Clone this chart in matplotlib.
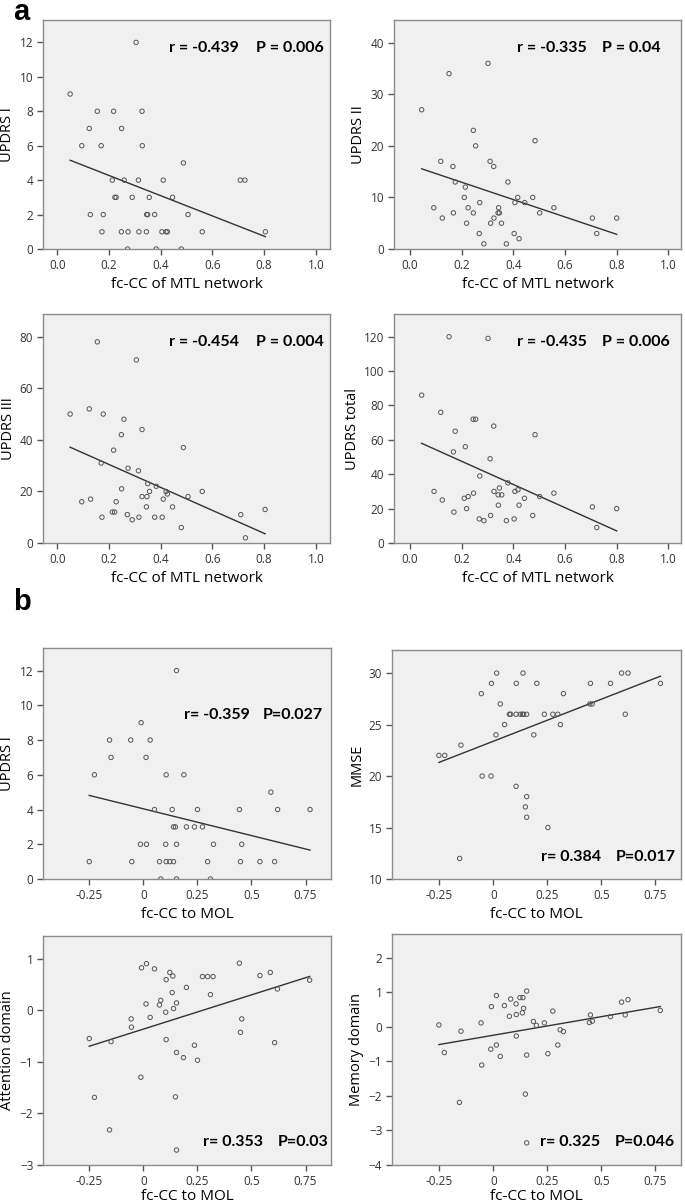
import numpy as np
import matplotlib
matplotlib.use("Agg")
import matplotlib.pyplot as plt

plt.rcParams['font.family'] = ['Open Sans', 'DejaVu Sans']

# ---- data ----
# panel a: fc-CC of MTL network
updrs1_x = [0.305, 0.050, 0.155, 0.218, 0.328, 0.124, 0.249, 0.095, 0.170, 0.329,
            0.488, 0.213, 0.259, 0.314, 0.410, 0.708, 0.726, 0.223, 0.228, 0.290,
            0.356, 0.446, 0.128, 0.178, 0.346, 0.350, 0.377, 0.506, 0.173, 0.248,
            0.274, 0.316, 0.345, 0.405, 0.421, 0.426, 0.561, 0.805, 0.272, 0.383, 0.480]
updrs1_y = [12, 9, 8, 8, 8, 7, 7, 6, 6, 6,
            5, 4, 4, 4, 4, 4, 4, 3, 3, 3,
            3, 3, 2, 2, 2, 2, 2, 2, 1, 1,
            1, 1, 1, 1, 1, 1, 1, 1, 0, 0, 0]

updrs2_x = [0.045, 0.151, 0.302, 0.245, 0.254, 0.484, 0.119, 0.310, 0.166, 0.324,
            0.175, 0.379, 0.214, 0.210, 0.417, 0.475, 0.270, 0.406, 0.444, 0.092,
            0.225, 0.343, 0.557, 0.168, 0.245, 0.341, 0.346, 0.502, 0.125, 0.325,
            0.706, 0.800, 0.219, 0.312, 0.354, 0.268, 0.403, 0.723, 0.422, 0.286, 0.373]
updrs2_y = [27, 34, 36, 23, 20, 21, 17, 17, 16, 16,
            13, 13, 12, 10, 10, 10, 9, 9, 9, 8,
            8, 8, 8, 7, 7, 7, 7, 7, 6, 6,
            6, 6, 5, 5, 5, 3, 3, 3, 2, 1, 1]

updrs3_x = [0.155, 0.306, 0.050, 0.124, 0.178, 0.258, 0.328, 0.248, 0.488, 0.218,
            0.170, 0.274, 0.314, 0.350, 0.383, 0.249, 0.357, 0.421, 0.561, 0.426,
            0.328, 0.347, 0.506, 0.129, 0.410, 0.095, 0.228, 0.345, 0.446, 0.804,
            0.213, 0.222, 0.271, 0.710, 0.173, 0.316, 0.377, 0.406, 0.290, 0.480, 0.728]
updrs3_y = [78, 71, 50, 52, 50, 48, 44, 42, 37, 36,
            31, 29, 28, 23, 22, 21, 20, 20, 20, 19,
            18, 18, 18, 17, 17, 16, 16, 14, 14, 13,
            12, 12, 11, 11, 10, 10, 10, 10, 9, 6, 2]

updrst_x = [0.151, 0.302, 0.045, 0.119, 0.244, 0.254, 0.324, 0.175, 0.484, 0.214,
            0.168, 0.310, 0.270, 0.379, 0.346, 0.418, 0.093, 0.325, 0.406, 0.246,
            0.557, 0.341, 0.355, 0.225, 0.502, 0.210, 0.443, 0.125, 0.342, 0.422,
            0.706, 0.219, 0.800, 0.170, 0.312, 0.475, 0.268, 0.403, 0.286, 0.373, 0.723]
updrst_y = [120, 119, 86, 76, 72, 72, 68, 65, 63, 56,
            53, 49, 39, 35, 32, 31, 30, 30, 30, 29,
            29, 28, 28, 27, 27, 26, 26, 25, 22, 22,
            21, 20, 20, 18, 16, 16, 14, 14, 13, 13, 9]

# panel b: fc-CC to MOL
mol_u1_x = [0.153, -0.011, -0.157, -0.059, 0.031, -0.150, 0.012, -0.227, 0.105, 0.187,
            0.590, 0.051, 0.133, 0.250, 0.444, 0.621, 0.771, 0.139, 0.148, 0.199,
            0.236, 0.273, -0.014, 0.014, 0.103, 0.153, 0.324, 0.455, -0.251, -0.054,
            0.074, 0.105, 0.122, 0.139, 0.297, 0.449, 0.539, 0.607, 0.080, 0.153, 0.310]
mol_u1_y = [12, 9, 8, 8, 8, 7, 7, 6, 6, 6,
            5, 4, 4, 4, 4, 4, 4, 3, 3, 3,
            3, 3, 2, 2, 2, 2, 2, 2, 1, 1,
            1, 1, 1, 1, 1, 1, 1, 1, 0, 0, 0]

mmse_x = [0.015, 0.137, 0.593, 0.623, -0.009, 0.106, 0.201, 0.449, 0.542, 0.773,
          -0.056, 0.324, 0.032, 0.446, 0.457, 0.074, 0.080, 0.105, 0.125, 0.134,
          0.140, 0.154, 0.236, 0.275, 0.298, 0.610, 0.052, 0.310, 0.012, 0.187,
          -0.150, -0.252, -0.225, -0.052, -0.011, 0.105, 0.154, 0.148, 0.154, 0.252, -0.156]
mmse_y = [30, 30, 30, 30, 29, 29, 29, 29, 29, 29,
          28, 28, 27, 27, 27, 26, 26, 26, 26, 26,
          26, 26, 26, 26, 26, 26, 25, 25, 24, 24,
          23, 22, 22, 20, 20, 19, 18, 17, 16, 15, 12]

attn_x = [0.014, 0.444, -0.009, 0.051, 0.122, 0.587, 0.136, 0.539, 0.105, 0.273,
          0.297, 0.322, 0.769, 0.199, 0.620, 0.133, 0.310, 0.080, 0.012, 0.074,
          0.153, 0.139, 0.103, 0.031, -0.057, 0.455, -0.056, 0.449, -0.251, -0.150,
          0.105, 0.607, 0.236, 0.153, 0.185, 0.250, -0.012, -0.227, 0.148, -0.157, 0.153]
attn_y = [0.90, 0.91, 0.82, 0.80, 0.73, 0.73, 0.66, 0.67, 0.59, 0.65,
          0.65, 0.65, 0.58, 0.44, 0.41, 0.34, 0.30, 0.19, 0.12, 0.10,
          0.14, 0.03, -0.04, -0.14, -0.17, -0.17, -0.33, -0.43, -0.55, -0.61,
          -0.57, -0.63, -0.68, -0.82, -0.92, -0.97, -1.30, -1.69, -1.68, -2.32, -2.71]

mem_x = [0.154, 0.014, 0.080, 0.123, 0.137, 0.623, 0.593, 0.105, 0.051, -0.009,
         0.140, 0.275, 0.772, 0.134, 0.106, 0.449, 0.610, 0.074, 0.542, 0.458,
         0.185, 0.444, 0.236, -0.057, 0.199, -0.252, 0.309, 0.324, -0.150, 0.106,
         0.014, 0.298, -0.012, -0.227, 0.252, 0.154, 0.032, -0.054, 0.148, -0.157, 0.154]
mem_y = [1.03, 0.90, 0.80, 0.84, 0.84, 0.78, 0.71, 0.66, 0.61, 0.58,
         0.53, 0.45, 0.47, 0.40, 0.35, 0.34, 0.34, 0.30, 0.29, 0.16,
         0.15, 0.12, 0.11, 0.11, 0.04, 0.05, -0.09, -0.14, -0.13, -0.27,
         -0.53, -0.53, -0.65, -0.75, -0.78, -0.82, -0.86, -1.11, -1.95, -2.19, -3.36]

stats = [("r = -0.439", "P = 0.006"), ("r = -0.335", "P = 0.04"),
         ("r = -0.454", "P = 0.004"), ("r = -0.435", "P = 0.006"),
         ("r= -0.359", "P=0.027"), ("r= 0.384", "P=0.017"),
         ("r= 0.353", "P=0.03"), ("r= 0.325", "P=0.046")]

ylabels = ["UPDRS I", "UPDRS II", "UPDRS III", "UPDRS total",
           "UPDRS I", "MMSE", "Attention domain", "Memory domain"]

W, H = 685, 1204
fig = plt.figure(figsize=(W / 100, H / 100), dpi=100)


def make_ax(left, top, right, bottom):
    # box given in pixels from the top-left corner
    return fig.add_axes([left / W, (H - bottom) / H, (right - left) / W, (bottom - top) / H])


def scatter_panel(ax, x, y, xlim, ylim, yticks, xticks, xticklabels, xlabel, ylabel,
                  stat, rx, px, ty, xpad=4):
    ax.set_facecolor('#f0f0f0')
    for s in ax.spines.values():
        s.set_color('#8c8c8c')
        s.set_linewidth(1.0)
    ax.scatter(x, y, s=10, facecolors='none', edgecolors='#555555', linewidths=0.7, zorder=3)
    coef = np.polyfit(x, y, 1)
    xs = np.array([min(x), max(x)])
    ax.plot(xs, np.polyval(coef, xs), color='#333333', lw=1.0, zorder=2)
    ax.set_xlim(*xlim)
    ax.set_ylim(*ylim)
    ax.set_xticks(xticks)
    ax.set_xticklabels(xticklabels)
    ax.set_yticks(yticks)
    ax.tick_params(direction='out', length=4, width=1, color='#555555',
                   labelsize=8.5, labelcolor='#333333', top=False, right=False, pad=3)
    ax.set_xlabel(xlabel, fontsize=11, labelpad=xpad)
    ax.set_ylabel(ylabel, fontsize=10.5, labelpad=3)
    ax.text(rx, ty, stat[0], transform=ax.transAxes, fontsize=11.5, fontweight='bold',
            family=['Lato', 'DejaVu Sans'], va='center', ha='left')
    ax.text(px, ty, stat[1], transform=ax.transAxes, fontsize=11.5, fontweight='bold',
            family=['Lato', 'DejaVu Sans'], va='center', ha='left')


mtl_ticks = [0.0, 0.2, 0.4, 0.6, 0.8, 1.0]
mtl_labels = ["0.0", "0.2", "0.4", "0.6", "0.8", "1.0"]
mol_ticks = [-0.25, 0, 0.25, 0.5, 0.75]
mol_labels = ["-0.25", "0", "0.25", "0.5", "0.75"]

ax1 = make_ax(43, 20, 330, 249)
scatter_panel(ax1, updrs1_x, updrs1_y, (-0.055, 1.055), (0, 13.3), range(0, 13, 2),
              mtl_ticks, mtl_labels, "fc-CC of MTL network", ylabels[0], stats[0], 0.44, 0.742, 0.878)
ax2 = make_ax(394, 20, 681, 249)
scatter_panel(ax2, updrs2_x, updrs2_y, (-0.062, 1.049), (0, 44.4), range(0, 41, 10),
              mtl_ticks, mtl_labels, "fc-CC of MTL network", ylabels[1], stats[1], 0.428, 0.725, 0.878)
ax3 = make_ax(43, 314, 330, 543)
scatter_panel(ax3, updrs3_x, updrs3_y, (-0.055, 1.055), (0, 88.8), range(0, 81, 20),
              mtl_ticks, mtl_labels, "fc-CC of MTL network", ylabels[2], stats[2], 0.44, 0.742, 0.877)
ax4 = make_ax(394, 314, 681, 543)
scatter_panel(ax4, updrst_x, updrst_y, (-0.062, 1.049), (0, 133.2), range(0, 121, 20),
              mtl_ticks, mtl_labels, "fc-CC of MTL network", ylabels[3], stats[3], 0.428, 0.725, 0.877)

ax5 = make_ax(43, 648, 331, 879)
scatter_panel(ax5, mol_u1_x, mol_u1_y, (-0.465, 0.868), (0, 13.3), range(0, 13, 2),
              mol_ticks, mol_labels, "fc-CC to MOL", ylabels[4], stats[4], 0.49, 0.764, 0.71)
ax6 = make_ax(392, 650, 681, 879)
scatter_panel(ax6, mmse_x, mmse_y, (-0.469, 0.868), (10, 32.24), range(10, 31, 5),
              mol_ticks, mol_labels, "fc-CC to MOL", ylabels[5], stats[5], 0.515, 0.775, 0.096)
ax7 = make_ax(43, 936, 331, 1165)
scatter_panel(ax7, attn_x, attn_y, (-0.465, 0.868), (-3, 1.436), range(-3, 2),
              mol_ticks, mol_labels, "fc-CC to MOL", ylabels[6], stats[6], 0.556, 0.815, 0.10,
              xpad=1)
ax8 = make_ax(392, 934, 681, 1165)
scatter_panel(ax8, mem_x, mem_y, (-0.469, 0.868), (-4, 2.68), range(-4, 3),
              mol_ticks, mol_labels, "fc-CC to MOL", ylabels[7], stats[7], 0.512, 0.772, 0.10,
              xpad=1)

fig.text(13 / W, 1 - 12 / H, "a", fontsize=21, fontweight='bold', va='center', ha='left',
         family=['Liberation Sans', 'DejaVu Sans'])
fig.text(13 / W, 1 - 602 / H, "b", fontsize=21, fontweight='bold', va='center', ha='left',
         family=['Liberation Sans', 'DejaVu Sans'])

fig.savefig("out.png", dpi=100)
